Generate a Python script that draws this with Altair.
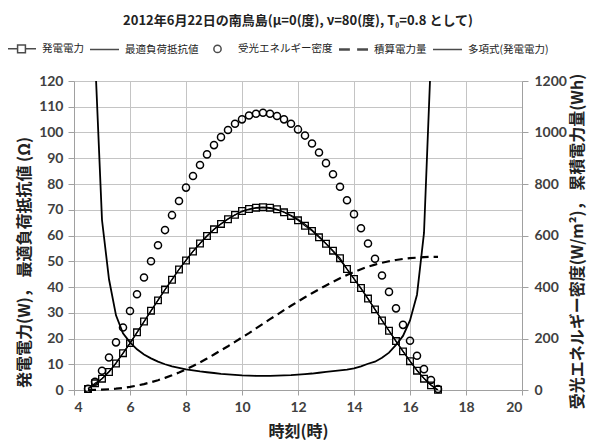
import altair as alt
import pandas as pd

# ---- data (15-minute steps) ----
hours = [4.5, 4.75, 5.0, 5.25, 5.5, 5.75, 6.0, 6.25, 6.5, 6.75,
         7.0, 7.25, 7.5, 7.75, 8.0, 8.25, 8.5, 8.75, 9.0, 9.25,
         9.5, 9.75, 10.0, 10.25, 10.5, 10.75, 11.0, 11.25, 11.5, 11.75,
         12.0, 12.25, 12.5, 12.75, 13.0, 13.25, 13.5, 13.75, 14.0, 14.25,
         14.5, 14.75, 15.0, 15.25, 15.5, 15.75, 16.0, 16.25, 16.5, 16.75, 17.0]

power_w = [0.4, 2.6, 4.4, 7.0, 10.3, 14.3, 18.2, 22.4, 26.6, 30.8,
           34.8, 39.0, 42.8, 46.8, 50.3, 53.8, 56.9, 59.8, 62.4, 64.5,
           66.3, 68.0, 69.5, 70.3, 70.8, 71.0, 70.8, 70.2, 69.0, 67.6,
           65.9, 63.8, 61.8, 59.3, 56.8, 54.1, 51.2, 47.0, 43.1, 39.6,
           35.5, 31.3, 27.0, 23.0, 19.0, 15.0, 11.2, 7.5, 4.4, 1.8, 0.1]

resistance_ohm = [None, 130, 66, 43, 29, 22, 18.5, 15.8, 13.8, 12.3,
                  11.0, 10.0, 9.2, 8.6, 8.0, 7.6, 7.2, 6.9, 6.6, 6.3,
                  6.1, 5.9, 5.7, 5.6, 5.5, 5.5, 5.5, 5.6, 5.7, 5.8,
                  6.0, 6.2, 6.4, 6.7, 7.0, 7.3, 7.6, 7.9, 8.4, 9.2,
                  10.2, 11.0, 12.5, 14.5, 17.5, 21, 27, 37, 61, 130, None]

energy_density = [5, 32, 75, 126, 185, 243, 307, 372, 437, 500,
                  562, 621, 679, 734, 786, 831, 874, 915, 951, 982,
                  1010, 1034, 1051, 1066, 1073, 1077, 1073, 1064, 1051, 1034,
                  1012, 988, 957, 922, 881, 838, 789, 737, 683, 628,
                  569, 510, 445, 381, 317, 253, 191, 133, 81, 39, 4]

cumulative_wh = [0, 0.5, 1.5, 3, 5, 8, 12, 17, 23, 30,
                 38, 47, 57, 68, 80, 93, 107, 122, 138, 154,
                 170, 187, 204, 221, 239, 257, 275, 292, 310, 327,
                 344, 360, 376, 391, 406, 420, 434, 447, 458, 469,
                 479, 487, 494, 500, 505, 509, 512, 514, 516, 517, 517]

x_ticks = [4, 6, 8, 10, 12, 14, 16, 18, 20]
left_ticks = [0, 10, 20, 30, 40, 50, 60, 70, 80, 90, 100, 110, 120]
right_ticks = [0, 200, 400, 600, 800, 1000, 1200]

legend_labels = ["発電電力", "最適負荷抵抗値", "受光エネルギー密度", "積算電力量", "多項式(発電電力)"]

title_text = "2012年6月22日の南鳥島(μ=0(度), ν=80(度), T₀=0.8 として)"
left_title = "発電電力(W)， 最適負荷抵抗値 (Ω)"
right_title = "受光エネルギー密度(W/m²)， 累積電力量(Wh)"
x_title = "時刻(時)"

df = pd.DataFrame({"t": hours, "P": power_w, "R": resistance_ohm,
                   "E": energy_density, "C": cumulative_wh})
legend_df = pd.DataFrame({"series": legend_labels,
                          "t": [None] * 5, "v": [None] * 5})

# legend symbol paths in the [-1,1] unit box
legend_paths = [
    "M-1,0H-0.27M0.27,0H1M-0.27,-0.27H0.27V0.27H-0.27Z",
    "M-1,0H1",
    "M0.25,0A0.25,0.25,0,1,1,-0.25,0A0.25,0.25,0,1,1,0.25,0Z",
    "M-1,-0.04H-0.25M-1,0.04H-0.25M0.25,-0.04H1M0.25,0.04H1",
    "M-1,0H1",
]

FONT = "Noto Sans CJK JP"

x_scale = alt.Scale(domain=[4, 20], nice=False, zero=False)
left_scale = alt.Scale(domain=[0, 120], nice=False)
right_scale = alt.Scale(domain=[0, 1200], nice=False)

x_axis = alt.Axis(values=x_ticks, title=x_title, tickSize=5, labelPadding=5,
                  titlePadding=9, grid=True)
left_axis = alt.Axis(values=left_ticks, title=left_title, tickSize=6,
                     labelPadding=5, titlePadding=6, grid=True, titleY=181)
right_axis = alt.Axis(values=right_ticks, title=right_title, orient="right",
                      tickSize=6, labelPadding=6, titlePadding=3, grid=False,
                      format="d", titleAngle=270, titleY=160,
                      titleBaseline="top")

X = alt.X("t:Q", scale=x_scale, axis=x_axis)

base = alt.Chart(df)

r_line = base.mark_line(color="black", strokeWidth=1.8, clip=True).encode(
    x=X, y=alt.Y("R:Q", scale=left_scale, axis=left_axis))

poly = base.transform_regression(
    "t", "P", method="poly", order=6, extent=[4.5, 17]
).mark_line(color="black", strokeWidth=1.2, clip=True).encode(
    x=X, y=alt.Y("P:Q", scale=left_scale, axis=left_axis))

p_line = base.mark_line(color="black", strokeWidth=1.2).encode(
    x=X, y=alt.Y("P:Q", scale=left_scale, axis=left_axis))

p_pts = base.mark_point(shape="square", size=44, filled=False, color="black",
                        strokeWidth=1.3, opacity=1).encode(
    x=X, y=alt.Y("P:Q", scale=left_scale, axis=left_axis))

legend_layer = alt.Chart(legend_df).mark_point(
    color="black", strokeWidth=1.5, filled=False
).encode(
    x=X,
    y=alt.Y("v:Q", scale=left_scale, axis=left_axis),
    shape=alt.Shape("series:N",
                    scale=alt.Scale(domain=legend_labels, range=legend_paths),
                    legend=alt.Legend(
                        title=None, orient="none", legendX=-68, legendY=-48,
                        direction="horizontal", columns=5,
                        symbolSize=841, symbolStrokeWidth=1.5,
                        symbolStrokeColor="black", symbolFillColor="white",
                        labelFont=FONT, labelFontSize=10.5, labelColor="#222",
                        labelOffset=5, columnPadding=3, labelLimit=200)),
)

cum_line = base.mark_line(color="black", strokeWidth=2.2,
                          strokeDash=[8, 5]).encode(
    x=X, y=alt.Y("C:Q", scale=right_scale, axis=right_axis))

e_pts = base.mark_point(shape="circle", size=50, filled=False, color="black",
                        strokeWidth=1.5, opacity=1).encode(
    x=X, y=alt.Y("E:Q", scale=right_scale, axis=right_axis))

left = alt.layer(r_line, poly, p_line, p_pts, legend_layer)
right = alt.layer(cum_line, e_pts)

chart = alt.layer(left, right).resolve_scale(
    y="independent", shape="independent"
).properties(
    width=579, height=435,
    autosize=alt.AutoSizeParams(type="fit", contains="padding"),
    padding={"left": 8, "top": 7, "right": 1, "bottom": 4},
    title=alt.TitleParams(text=title_text, font=FONT, fontSize=13,
                          fontWeight="bold", color="#222", anchor="middle",
                          frame="group", offset=45),
).configure_axis(
    labelFont="Lato", labelFontSize=14, labelFontWeight="bold",
    labelColor="#404040",
    titleFont=FONT, titleFontSize=16, titleFontWeight="bold",
    titleColor="#222",
    gridColor="#c4c4c4", gridWidth=1,
    domainColor="#a0a0a0", tickColor="#a0a0a0",
).configure_view(stroke=None)

chart.save("out.html", embed_options={"renderer": "svg", "actions": False})
